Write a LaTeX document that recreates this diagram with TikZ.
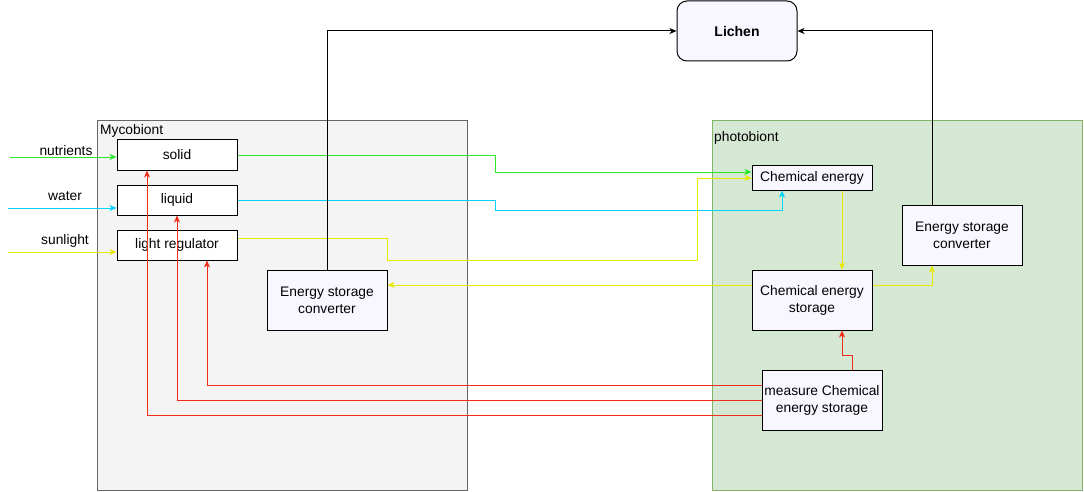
\documentclass[tikz,border=0pt]{standalone}
\usepackage{fontspec}
\setmainfont{Liberation Sans}
\usetikzlibrary{arrows.meta}
\definecolor{myfill}{RGB}{244,244,244}
\definecolor{mystroke}{RGB}{102,102,102}
\definecolor{phfill}{RGB}{213,232,212}
\definecolor{phstroke}{RGB}{130,179,102}
\definecolor{lav}{RGB}{248,246,254}
\definecolor{cgreen}{RGB}{40,232,40}
\definecolor{ccyan}{RGB}{0,212,255}
\definecolor{cyel}{RGB}{232,232,0}
\definecolor{cred}{RGB}{240,45,25}
\begin{document}
\begin{tikzpicture}[x=1pt,y=-1pt,
  every node/.style={font=\fontsize{13.8}{17}\selectfont, inner sep=0pt},
  box/.style={draw=black, line width=1pt, fill=white, align=center},
  lbox/.style={box, fill=lav},
  conn/.style={line width=1pt, -{Stealth[length=7pt,width=6pt,inset=2pt]}},
  wire/.style={line width=1pt}
]
\useasboundingbox (0,0) rectangle (1084,492);
% containers
\node[draw=mystroke, fill=myfill, line width=1pt, minimum width=370pt, minimum height=369pt] (myco) at (282,305.5) {};
\node[draw=phstroke, fill=phfill, line width=1pt, minimum width=370pt, minimum height=369pt] (photo) at (897,305.5) {};
\node[anchor=west] (mycol) at (100,131) {Mycobiont};
\node[anchor=west] (photol) at (714,138) {photobiont};
% boxes
\node[lbox, rounded corners=10pt, minimum width=120pt, minimum height=60pt, font=\fontsize{14}{17}\selectfont\bfseries] (lichen) at (737,31) {Lichen};
\node[box, minimum width=120pt, minimum height=30pt] (solid) at (177,155) {solid};
\node[box, minimum width=120pt, minimum height=30pt] (liquid) at (177,200) {liquid};
\node[box, minimum width=120pt, minimum height=30pt] (light) at (177,245) {light regulator};
\node[lbox, minimum width=120pt, minimum height=60pt] (convL) at (327,300) {Energy storage\\converter};
\node[lbox, minimum width=120pt, minimum height=25pt] (chem) at (812,177.5) {Chemical energy};
\node[lbox, minimum width=120pt, minimum height=60pt] (store) at (812,300) {Chemical energy\\storage};
\node[lbox, minimum width=120pt, minimum height=60pt] (convR) at (962,235) {Energy storage\\converter};
\node[lbox, minimum width=120pt, minimum height=60pt] (meas) at (822,400) {measure Chemical\\energy storage};
% inputs
\coordinate (inN) at (10,157);
\coordinate (inW) at (8,208);
\coordinate (inS) at (8,252);
\draw[conn, cgreen] (inN) -- (solid.west |- inN);
\draw[conn, ccyan] (inW) -- (liquid.west |- inW);
\draw[conn, cyel] (inS) -- (light.west |- inS);
\node (tn) at (66,151) {nutrients};
\node (tw) at (65,196) {water};
\node (ts) at (65,241) {sunlight};
% mycobiont -> chemical energy
\draw[conn, cgreen] (solid.east) -- (495,155) -- (495,172) -- (chem.west |- 0,172);
\draw[conn, ccyan] (liquid.east) -- (495,200) -- (495,210) -- (782,210) -- (chem.south -| 782,0);
\draw[conn, cyel] (light.east |- 0,238) -- (387,238) -- (387,260) -- (697,260) -- (697,178) -- (chem.west |- 0,178);
% photobiont internal
\draw[conn, cyel] (chem.south -| 842,0) -- (store.north -| 842,0);
\draw[conn, cyel] (store.east |- 0,285) -| (convR.south -| 932,0);
\draw[conn, cyel] (store.west |- 0,285) -- (convL.east |- 0,285);
% converters -> lichen
\draw[conn, black] (convL.north) |- (lichen.west);
\draw[conn, black] (convR.north -| 932,0) |- (lichen.east);
% measure feedback
\draw[conn, cred] (meas.north -| 852,0) -- (852,355) -- (842,355) -- (store.south -| 842,0);
\draw[conn, cred] (meas.west |- 0,385) -| (light.south -| 207,0);
\draw[conn, cred] (meas.west |- 0,400) -| (liquid.south);
\draw[conn, cred] (meas.west |- 0,415) -| (solid.south -| 147,0);
\draw[wire, cred] (147,230) -- (147,260);
\draw[wire, cred] (177,230) -- (177,260);
\end{tikzpicture}
\end{document}
